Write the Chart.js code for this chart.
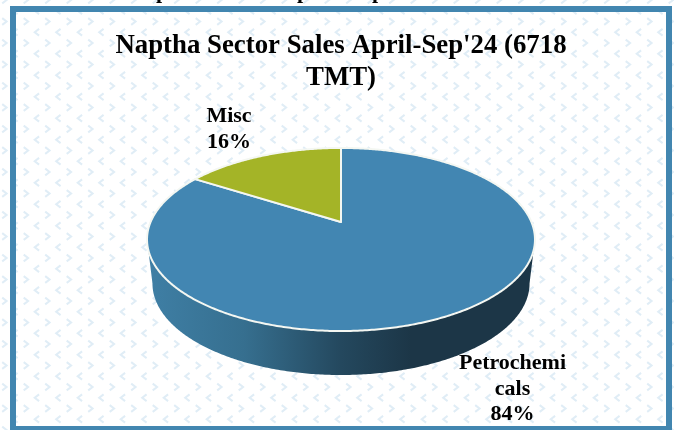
<!DOCTYPE html>
<html>
<head>
<meta charset="utf-8">
<style>
  html, body { margin: 0; padding: 0; background: #fff; }
  canvas { display: block; }
</style>
<script src="https://cdn.jsdelivr.net/npm/chart.js@4/dist/chart.umd.min.js"></script>
</head>
<body>
<canvas id="chart" width="674" height="430"></canvas>
<script>
const categories = ["Petrochemicals", "Misc"];
const shares = [84, 16];
const sliceColors = ["#4286b2", "#a4b427"];
const titleLines = ["Naptha Sector Sales April-Sep'24 (6718", "TMT)"];
// etykiety zawinięte tak jak w oryginale
const sliceLabels = [["Petrochemi", "cals", "84%"], ["Misc", "16%"]];

const SERIF = "'Liberation Serif', serif";
const FRAME = "#4286b0";
const DEPTH = 44;            // wysokość ścianki 3D
const SKEW = -0.191;         // perspektywa: przód koła większy niż tył
const SCALE_X = 2.573, SCALE_Y = 1.192;

// Rzut punktu koła (kąt od góry, zgodnie z zegarem) na elipsę w perspektywie.
function project(arc, angle) {
  const u = Math.sin(angle), v = -Math.cos(angle);
  const w = 1 + SKEW * v;
  return {
    x: arc.x + arc.outerRadius * SCALE_X * u / w,
    y: arc.y + arc.outerRadius * SCALE_Y * v / w,
  };
}

function chevrons(ctx, w, h) {
  ctx.save();
  ctx.strokeStyle = "#e0edf6";
  ctx.lineWidth = 2;
  for (let row = 0; row * 10.75 < h + 10; row++) {
    const right = row % 2 === 0;
    const y = row * 10.75;
    for (let x = right ? 4.4 : 15.4; x < w + 10; x += 21.5) {
      const d = right ? 2.2 : -2.2;
      ctx.beginPath();
      ctx.moveTo(x - d, y - 3.4);
      ctx.lineTo(x + d, y);
      ctx.lineTo(x - d, y + 3.4);
      ctx.stroke();
    }
  }
  ctx.restore();
}

const backdrop = {
  id: "backdrop",
  beforeDraw(chart) {
    const { ctx, width, height } = chart;
    ctx.save();
    ctx.fillStyle = "#fff";
    ctx.fillRect(0, 0, width, height);
    chevrons(ctx, width, height);
    // końcówki liter z wiersza nad ramką (ucięte w oryginale)
    ctx.fillStyle = "#000";
    ctx.font = "bold 22px " + SERIF;
    ctx.textAlign = "center";
    ctx.textBaseline = "alphabetic";
    [162, 303, 378].forEach(x => ctx.fillText("p", x, -2));
    ctx.strokeStyle = FRAME;
    ctx.lineWidth = 6;
    ctx.strokeRect(13, 9, 656, 420);
    ctx.restore();
  },
};

const pie3d = {
  id: "pie3d",
  beforeDatasetDraw(chart) {
    const { ctx } = chart;
    const arcs = chart.getDatasetMeta(0).data;
    const a = arcs[0];
    ctx.save();

    // ścianka: przód koła od prawej do lewej krawędzi
    const grad = ctx.createLinearGradient(a.x - 194, 0, a.x + 194, 0);
    grad.addColorStop(0, "#3f7fa5");
    grad.addColorStop(0.25, "#366f8f");
    grad.addColorStop(0.5, "#24485e");
    grad.addColorStop(0.68, "#1c3647");
    grad.addColorStop(1, "#1c3647");
    ctx.fillStyle = grad;
    ctx.beginPath();
    const from = Math.PI / 2 + 0.19, to = Math.PI * 1.5 - 0.19;
    for (let t = from; t <= to; t += 0.01) {
      const p = project(a, t);
      ctx.lineTo(p.x, p.y);
    }
    for (let t = to; t >= from; t -= 0.01) {
      const p = project(a, t);
      ctx.lineTo(a.x + (p.x - a.x) * 0.972, p.y + DEPTH);
    }
    ctx.closePath();
    ctx.fill();

    // wierzch: kąty wycinków bierzemy z elementów Chart.js
    arcs.forEach(arc => {
      const start = arc.startAngle + Math.PI / 2, end = arc.endAngle + Math.PI / 2;
      ctx.beginPath();
      ctx.moveTo(arc.x, arc.y);
      for (let t = start; t < end; t += 0.01) {
        const p = project(arc, t);
        ctx.lineTo(p.x, p.y);
      }
      const last = project(arc, end);
      ctx.lineTo(last.x, last.y);
      ctx.closePath();
      ctx.fillStyle = arc.options.backgroundColor;
      ctx.fill();
      ctx.strokeStyle = "#f4f7f2";
      ctx.lineWidth = 2;
      ctx.lineJoin = "round";
      ctx.stroke();
    });
    ctx.restore();
    return false; // domyślne koło nie jest rysowane
  },
  afterDraw(chart) {
    const { ctx } = chart;
    ctx.save();
    ctx.fillStyle = "#000";
    ctx.font = "bold 22px " + SERIF;
    ctx.textAlign = "center";
    ctx.textBaseline = "alphabetic";
    const anchors = [{ x: 512.5, y: 369 }, { x: 229, y: 122 }];
    sliceLabels.forEach((lines, i) => {
      lines.forEach((line, n) => ctx.fillText(line, anchors[i].x, anchors[i].y + n * 25.5));
    });
    ctx.restore();
  },
};

new Chart(document.getElementById("chart"), {
  type: "pie",
  data: {
    labels: categories,
    datasets: [{ data: shares, backgroundColor: sliceColors, borderWidth: 0 }],
  },
  options: {
    responsive: false,
    animation: false,
    events: [],
    // lewy margines przesuwa środek koła i tytułu na x = 341
    layout: { padding: { left: 8, right: 0, top: 30, bottom: 134 } },
    plugins: {
      legend: { display: false },
      tooltip: { enabled: false },
      title: {
        display: true,
        text: titleLines,
        color: "#000",
        font: { family: SERIF, size: 26.8, weight: "bold", lineHeight: 1.194 },
        padding: { top: 0, bottom: 54 },
      },
    },
  },
  plugins: [backdrop, pie3d],
});
</script>
</body>
</html>
